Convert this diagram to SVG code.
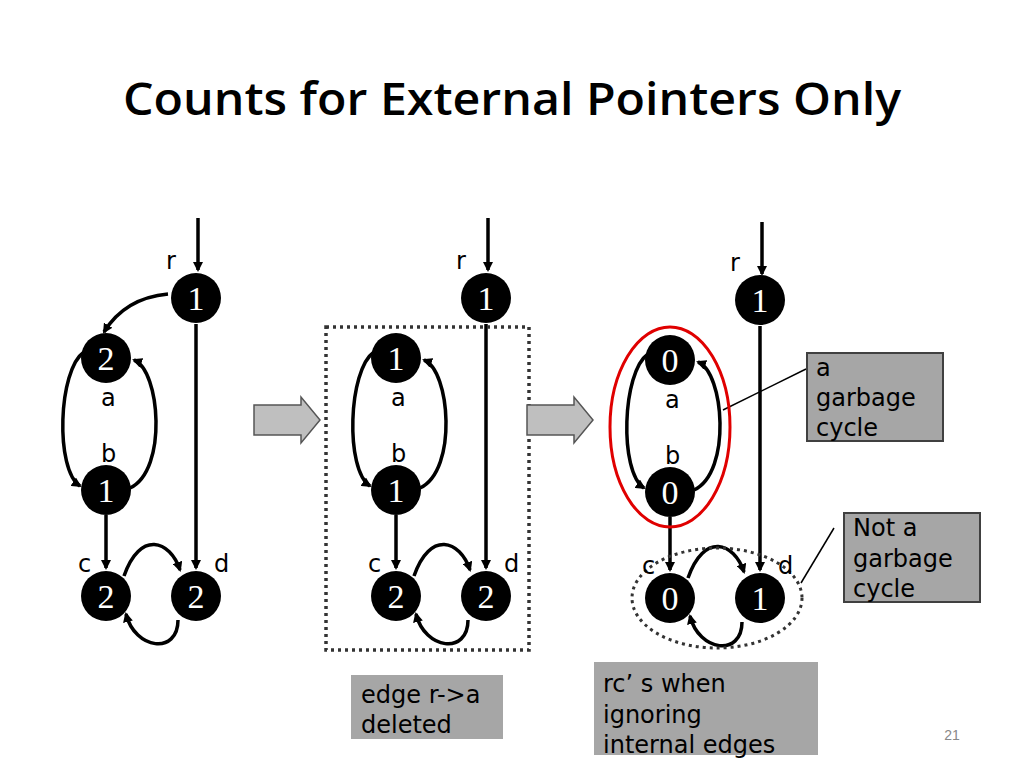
<svg xmlns="http://www.w3.org/2000/svg" width="1024" height="768" viewBox="0 0 1024 768">
<defs>
<marker id="ah" markerWidth="10" markerHeight="10" refX="8" refY="5" orient="auto" markerUnits="userSpaceOnUse"><path d="M0,0 L10,5 L0,10 z" fill="#000"/></marker>
</defs>
<style>
.e{fill:none;stroke:#000;stroke-width:3.5;marker-end:url(#ah)}
.n{fill:#000}
.nt{font-family:"Liberation Serif",serif;font-size:34px;fill:#fff;text-anchor:middle}
.lb{font-family:"DejaVu Sans",sans-serif;font-size:24px;fill:#000}
.bx{fill:#a6a6a6;stroke:#404040;stroke-width:2}
.bt{font-family:"DejaVu Sans",sans-serif;font-size:24px;fill:#000}
.ga{fill:#bfbfbf;stroke:#555;stroke-width:1.5}
</style>
<rect width="1024" height="768" fill="#fff"/>
<text x="512" y="115" text-anchor="middle" font-family="'Open Sans','Liberation Sans',sans-serif" font-weight="600" font-size="46" textLength="778" lengthAdjust="spacingAndGlyphs">Counts for External Pointers Only</text>

<g id="connectors">
<path class="e" d="M198,218 L198,270"/>
<path class="e" d="M168,294 Q125,298 104,332"/>
<path class="e" d="M84,352 C58,370 55,470 80,486"/>
<path class="e" d="M130,488 C168,470 160,370 134,360"/>
<path class="e" d="M106,515 L106,568"/>
<path class="e" d="M196,324 L196,568"/>
<path class="e" d="M124,576 C140,530 170,540 180,570"/>
<path class="e" d="M178,620 C178,655 135,650 126,614"/>
<path class="e" d="M488,218 L488,270"/>
<path class="e" d="M374,352 C348,370 345,470 370,486"/>
<path class="e" d="M420,488 C458,470 450,370 424,360"/>
<path class="e" d="M396,515 L396,568"/>
<path class="e" d="M486,324 L486,568"/>
<path class="e" d="M414,576 C430,530 460,540 470,570"/>
<path class="e" d="M468,620 C468,655 425,650 416,614"/>
<path class="e" d="M762,222 L762,274"/>
<path class="e" d="M648,354 C622,372 619,472 644,488"/>
<path class="e" d="M694,490 C732,472 724,372 698,362"/>
<path class="e" d="M670,517 L670,570"/>
<path class="e" d="M760,326 L760,570"/>
<path class="e" d="M688,578 C704,532 734,542 744,572"/>
<path class="e" d="M742,622 C742,657 699,652 690,616"/>
<path d="M806,369 L723,410" stroke="#000" stroke-width="1.5"/>
<path d="M834,528 L801,583" stroke="#000" stroke-width="1.5"/>
</g>

<rect x="326" y="327" width="203" height="323" fill="none" stroke="#333" stroke-width="3.5" stroke-dasharray="3,4"/>
<ellipse cx="670" cy="427" rx="60" ry="100" fill="none" stroke="#e00000" stroke-width="3"/>
<ellipse cx="717" cy="598" rx="85" ry="50" fill="none" stroke="#333" stroke-width="3" stroke-dasharray="3,4"/>

<path class="ga" d="M254,405 L301,405 L301,397 L320,420 L301,443 L301,435 L254,435 z"/>
<path class="ga" d="M527,405 L574,405 L574,397 L593,420 L574,443 L574,435 L527,435 z"/>

<g id="p1">
<g id="p1r"><circle class="n" cx="196" cy="298" r="25"/><text class="nt" x="196" y="310">1</text><text class="lb" x="166" y="269">r</text></g>
<g id="p1a"><circle class="n" cx="106" cy="358" r="25"/><text class="nt" x="106" y="370">2</text><text class="lb" x="101" y="406">a</text></g>
<g id="p1b"><circle class="n" cx="106" cy="490" r="25"/><text class="nt" x="106" y="502">1</text><text class="lb" x="101" y="462">b</text></g>
<g id="p1c"><circle class="n" cx="106" cy="596" r="25"/><text class="nt" x="106" y="608">2</text><text class="lb" x="78" y="572">c</text></g>
<g id="p1d"><circle class="n" cx="196" cy="596" r="25"/><text class="nt" x="196" y="608">2</text><text class="lb" x="214" y="572">d</text></g>
</g>
<g id="p2">
<g id="p2r"><circle class="n" cx="486" cy="298" r="25"/><text class="nt" x="486" y="310">1</text><text class="lb" x="456" y="269">r</text></g>
<g id="p2a"><circle class="n" cx="396" cy="358" r="25"/><text class="nt" x="396" y="370">1</text><text class="lb" x="391" y="406">a</text></g>
<g id="p2b"><circle class="n" cx="396" cy="490" r="25"/><text class="nt" x="396" y="502">1</text><text class="lb" x="391" y="462">b</text></g>
<g id="p2c"><circle class="n" cx="396" cy="596" r="25"/><text class="nt" x="396" y="608">2</text><text class="lb" x="368" y="572">c</text></g>
<g id="p2d"><circle class="n" cx="486" cy="596" r="25"/><text class="nt" x="486" y="608">2</text><text class="lb" x="504" y="572">d</text></g>
</g>
<g id="p3">
<g id="p3r"><circle class="n" cx="760" cy="300" r="25"/><text class="nt" x="760" y="312">1</text><text class="lb" x="730" y="271">r</text></g>
<g id="p3a"><circle class="n" cx="670" cy="360" r="25"/><text class="nt" x="670" y="372">0</text><text class="lb" x="665" y="408">a</text></g>
<g id="p3b"><circle class="n" cx="670" cy="492" r="25"/><text class="nt" x="670" y="504">0</text><text class="lb" x="665" y="464">b</text></g>
<g id="p3c"><circle class="n" cx="670" cy="598" r="25"/><text class="nt" x="670" y="610">0</text><text class="lb" x="642" y="574">c</text></g>
<g id="p3d"><circle class="n" cx="760" cy="598" r="25"/><text class="nt" x="760" y="610">1</text><text class="lb" x="778" y="574">d</text></g>
</g>

<g id="box1"><rect class="bx" x="807" y="353" width="136" height="88"/><text class="bt" x="816" y="376">a</text><text class="bt" x="816" y="406">garbage</text><text class="bt" x="816" y="436">cycle</text></g>
<g id="box2"><rect class="bx" x="844" y="513" width="136" height="89"/><text class="bt" x="853" y="536">Not a</text><text class="bt" x="853" y="567">garbage</text><text class="bt" x="853" y="597">cycle</text></g>
<g id="box3"><rect x="351" y="675" width="152" height="64" fill="#a6a6a6"/><text class="bt" x="361" y="703">edge r-&gt;a</text><text class="bt" x="361" y="733">deleted</text></g>
<g id="box4"><rect x="594" y="662" width="224" height="93" fill="#a6a6a6"/><text class="bt" x="603" y="692">rc’ s when</text><text class="bt" x="603" y="723">ignoring</text><text class="bt" x="603" y="753">internal edges</text></g>
<text x="952" y="740" text-anchor="middle" font-family="'Liberation Sans',sans-serif" font-size="14" fill="#888">21</text>
</svg>
